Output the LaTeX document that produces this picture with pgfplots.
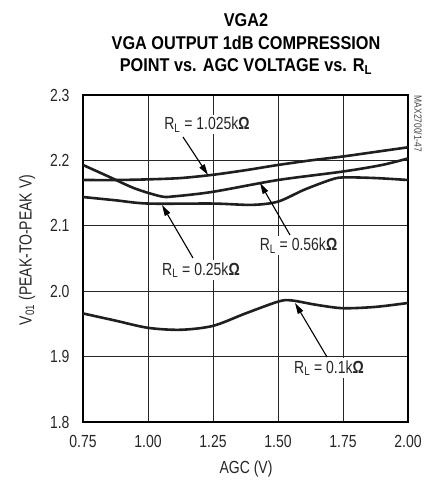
\documentclass[border=0pt]{standalone}
\usepackage{fontspec}
\setmainfont{Liberation Sans}[FakeStretch=0.8]
\newfontfamily\titlefont{Liberation Sans}[FakeStretch=0.88]
\usepackage{pgfplots}
\pgfplotsset{compat=1.18}
\usetikzlibrary{arrows.meta}
\begin{document}
\begin{tikzpicture}
\path[use as bounding box] (-83pt,-59pt) rectangle (351pt,422pt);
\begin{axis}[
  at={(0pt,0pt)}, anchor=south west,
  scale only axis, width=325pt, height=327pt,
  xmin=0.75, xmax=2.00, ymin=1.8, ymax=2.3,
  xtick={0.75,1.00,...,2.00}, ytick={1.8,1.9,...,2.3},
  xticklabels={0.75,1.00,1.25,1.50,1.75,2.00},
  yticklabels={1.8,1.9,2.0,2.1,2.2,2.3},
  major tick length=0pt,
  grid=major,
  grid style={black!85, line width=0.8pt},
  axis line style={black, line width=2.4pt},
  tick label style={font=\fontsize{17.5}{20}\selectfont, text=black!85},
  yticklabel style={xshift=-10pt},
  xticklabel style={yshift=-10pt},
  /pgf/number format/assume math mode=true,
  clip=false,
]
\addplot[smooth, tension=0.5, line width=2.6pt, color=black!88] coordinates {
 (0.75,2.170) (0.875,2.170) (1.00,2.171) (1.125,2.173) (1.25,2.178) (1.375,2.185)
 (1.50,2.193) (1.625,2.200) (1.75,2.206) (1.875,2.213) (2.00,2.220)};
\addplot[smooth, tension=0.5, line width=2.6pt, color=black!88] coordinates {
 (0.75,2.193) (0.85,2.175) (0.95,2.157) (1.05,2.145) (1.10,2.145) (1.25,2.152)
 (1.50,2.170) (1.75,2.183) (1.90,2.193) (2.00,2.203)};
\addplot[smooth, tension=0.5, line width=2.6pt, color=black!88] coordinates {
 (0.75,2.144) (0.875,2.139) (1.00,2.134) (1.25,2.134) (1.40,2.132) (1.50,2.137)
 (1.60,2.155) (1.70,2.170) (1.75,2.174) (1.875,2.173) (2.00,2.170)};
\addplot[smooth, tension=0.5, line width=2.6pt, color=black!88] coordinates {
 (0.75,1.966) (0.875,1.955) (1.00,1.944) (1.125,1.941) (1.25,1.947) (1.375,1.966)
 (1.50,1.984) (1.55,1.986) (1.65,1.979) (1.75,1.974) (1.875,1.976) (2.00,1.982)};
\end{axis}
% labels
\tikzset{lab/.style={fill=white, inner sep=2pt, font=\fontsize{17.5}{20}\selectfont, text=black!85},
         arr/.style={line width=1.1pt, -{Triangle[length=11pt,width=6pt]}}}
\node[lab] at (124pt,297.5pt) {R\textsubscript{L} = 1.025k\textbf{Ω}};
\draw[arr] (100pt,285pt) -- (125pt,247pt);
\node[lab] at (215.5pt,176.5pt) {R\textsubscript{L} = 0.56k\textbf{Ω}};
\draw[arr] (207pt,187pt) -- (177pt,239pt);
\node[lab] at (118pt,152pt) {R\textsubscript{L} = 0.25k\textbf{Ω}};
\draw[arr] (110pt,164pt) -- (79pt,217pt);
\node[lab] at (246pt,54pt) {R\textsubscript{L} = 0.1k\textbf{Ω}};
\draw[arr] (244pt,65pt) -- (212pt,119pt);
% side tag
\node[rotate=-90, font=\fontsize{10.5}{12}\selectfont, text=black!75] at (335pt,298pt) {MAX2700/1-47};
% title
\node[anchor=base, font=\titlefont\bfseries\fontsize{18.5}{20}\selectfont] at (163pt,395.3pt) {VGA2};
\node[anchor=base, font=\titlefont\bfseries\fontsize{18.5}{20}\selectfont] at (163pt,372pt) {VGA OUTPUT 1dB COMPRESSION};
\node[anchor=base, font=\titlefont\bfseries\fontsize{18.5}{20}\selectfont] at (163pt,350.3pt) {POINT vs. AGC VOLTAGE vs. R\textsubscript{L}};
% axis labels
\node[anchor=base, font=\fontsize{17.5}{20}\selectfont, text=black!85] at (163pt,-51pt) {AGC (V)};
\node[rotate=90, font=\fontsize{17.5}{20}\selectfont, text=black!85] at (-56pt,172pt) {V\textsubscript{01} (PEAK-TO-PEAK V)};
\end{tikzpicture}
\end{document}
